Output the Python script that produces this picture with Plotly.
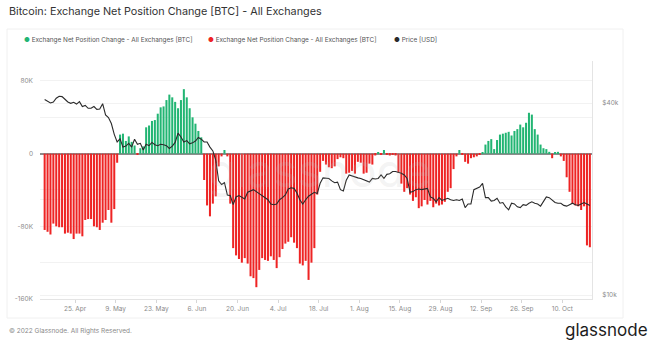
import plotly.graph_objects as go
import pandas as pd

# ---------------- data ----------------
dates = pd.date_range("2022-04-14", "2022-10-19", freq="D")

# Exchange net position change, thousands of BTC (one value per day)
net_k = [
    -84, -86, -89, -77, -80, -81, -81, -88, -87, -88,
    -94, -88, -88, -91, -73, -72, -72, -80, -81, -84,
    -76, -73, -62, -76, -61, -10, 21, 22, 14, 19,
    13, 9, -1.5, 6, 8, 29, 31, 36, 37, 44,
    51, 52, 59, 65, 62, 57, 50, 59, 71, 62,
    50, 40, 33, 25, 18, -29, -57, -69, -55, -47,
    -14, -3, 4, -3, -55, -104, -112, -116, -120, -115,
    -121, -135, -137, -147, -128, -115, -117, -118, -113, -117,
    -126, -114, -105, -99, -97, -92, -98, -104, -121, -123,
    -118, -139, -120, -104, -45, -20, -8, -12, -15, -16,
    -14, -6, -4, -5, -22, -21, -19, -22, -9, -10,
    -22, -21, -11, -12, -2, 1, -1, 4, -1.5, -2,
    -1, -2, -21, -33, -42, -38, -45, -52, -48, -60,
    -58, -51, -56, -52, -59, -55, -57, -56, -53, -42,
    -38, -17, -3, 4, -1, -9, -11, -5, -4, -3,
    -1, 1, 10, 14, 16, 5, 15, 21, 22, 23,
    24, 20, 25, 27, 32, 29, 34, 45, 43, 27,
    21, 10, 6, 5, 2, -5, 1.5, 2, -3, -8,
    -26, -42, -55, -57, -58, -62, -58, -101, -103,
]

# BTC price, thousands of USD
price_k = [
    41.0, 40.6, 40.0, 40.3, 41.4, 42.0, 41.9, 41.1, 40.3, 39.9,
    40.2, 39.7, 40.4, 39.0, 39.3, 38.5, 38.5, 39.0, 38.2, 38.3,
    39.8, 36.7, 36.0, 34.5, 31.9, 30.2, 30.9, 29.1, 29.3, 29.9,
    29.1, 30.8, 29.7, 29.9, 28.5, 29.7, 29.4, 30.1, 29.6, 29.4,
    29.7, 29.6, 29.4, 28.8, 29.3, 30.1, 32.2, 31.3, 30.2, 30.5,
    29.8, 30.0, 30.4, 31.2, 30.8, 30.2, 30.2, 29.1, 28.3, 26.5,
    22.8, 22.2, 22.5, 20.6, 20.5, 19.2, 20.3, 20.5, 20.2, 20.0,
    21.0, 21.2, 21.4, 21.1, 20.8, 20.4, 20.1, 19.9, 19.3, 19.2,
    19.3, 19.9, 20.2, 20.6, 21.5, 21.7, 21.6, 20.9, 19.9, 19.3,
    19.9, 20.4, 20.7, 21.0, 20.8, 22.4, 23.3, 23.2, 23.2, 22.8,
    22.5, 22.6, 21.4, 21.2, 22.9, 23.8, 23.6, 23.4, 23.3, 23.2,
    23.0, 22.7, 22.6, 23.2, 23.1, 23.2, 23.8, 23.2, 23.9, 24.0,
    24.4, 24.4, 24.3, 24.1, 23.8, 23.2, 21.0, 21.1, 21.4, 21.5,
    21.4, 21.5, 21.6, 20.3, 20.1, 19.6, 20.2, 19.8, 20.0, 20.1,
    19.9, 19.8, 19.9, 19.8, 20.0, 18.8, 19.3, 19.3, 21.4, 21.6,
    21.8, 22.4, 20.2, 20.2, 19.7, 19.8, 20.1, 19.4, 19.5, 18.9,
    18.5, 19.4, 19.3, 18.9, 18.8, 19.2, 19.1, 19.4, 19.6, 19.4,
    19.3, 19.0, 19.6, 20.3, 20.2, 19.9, 19.5, 19.4, 19.4, 19.1,
    19.0, 19.2, 19.4, 19.2, 19.1, 19.3, 19.5, 19.3, 19.1,
]

left_tickvals = [-160000, -120000, -80000, -40000, 0, 40000, 80000]
left_ticktext = ["-160K", "", "-80K", "", "0", "", "80K"]
right_tickvals = [10000, 20000, 40000]
right_ticktext = ["$10k", "", "$40k"]

TITLE = "Bitcoin: Exchange Net Position Change [BTC] - All Exchanges"
SERIES = "Exchange Net Position Change - All Exchanges [BTC]"
PRICE_NAME = "Price [USD]"

# ---------------- styling ----------------
GREEN = "#22b573"
RED = "#ee2424"
LINE = "#2a2a2a"
FONT = "Inter"
DAY = 86400000

net = [v * 1000 for v in net_k]
pos = [v if v > 0 else None for v in net]
neg = [v if v < 0 else None for v in net]
price = [p * 1000 for p in price_k]

W, H = 655, 347
L, R, T, B = 40, 592, 61, 299


def px(x):
    return (x - L) / (R - L)


def py(y):
    return (B - y) / (B - T)


fig = go.Figure()
fig.add_trace(go.Bar(x=dates, y=pos, marker=dict(color=GREEN, line=dict(width=0)),
                     xperiod=DAY, xperiodalignment="middle", name=SERIES, showlegend=False))
fig.add_trace(go.Bar(x=dates, y=neg, marker=dict(color=RED, line=dict(width=0)),
                     xperiod=DAY, xperiodalignment="middle", name=SERIES, showlegend=False))
fig.add_trace(go.Scatter(x=dates, y=price, yaxis="y2", mode="lines",
                         line=dict(color=LINE, width=1.1),
                         xperiod=DAY, xperiodalignment="middle", name=PRICE_NAME, showlegend=False))

tickfont = dict(family=FONT, size=6.5, color="#8a8a8a")

fig.update_layout(
    width=W, height=H,
    margin=dict(l=L, r=W - R, t=T, b=H - B),
    paper_bgcolor="white", plot_bgcolor="white",
    barmode="relative", bargap=0.3,
    showlegend=False,
    font=dict(family=FONT),
    xaxis=dict(
        range=["2022-04-12 21:30", "2022-10-20 05:45"],
        tick0="2022-04-25", dtick=14 * DAY, tickformat="%-d. %b",
        showgrid=False, zeroline=False,
        showline=True, linecolor="#e4e4e4", linewidth=1,
        ticks="outside", ticklen=3, tickcolor="#d6d6d6",
        tickfont=tickfont,
    ),
    yaxis=dict(
        range=[-160000, 102000],
        tickvals=left_tickvals, ticktext=left_ticktext,
        showgrid=True, gridcolor="#f2f2f2", gridwidth=1,
        zeroline=True, zerolinecolor="#8c8c8c", zerolinewidth=1.5,
        showline=False, ticks="", ticklabelstandoff=6,
        tickfont=tickfont,
    ),
    yaxis2=dict(
        overlaying="y", side="right", type="log",
        range=[3.9875, 4.7338],
        tickvals=right_tickvals, ticktext=right_ticktext,
        showgrid=True, gridcolor="#f2f2f2", gridwidth=1,
        zeroline=False, showline=True, linecolor="#e4e4e4", linewidth=1,
        ticks="", ticklabelstandoff=8,
        tickfont=tickfont,
    ),
)

annotations = []
# title
annotations.append(dict(text=TITLE, x=px(7), y=py(11), xref="paper", yref="paper",
                        xanchor="left", yanchor="middle", showarrow=False,
                        font=dict(family=FONT, size=10.8, color="#333333")))
# legend (text entries with coloured dots)
for xpos, col, label in [(22, GREEN, SERIES), (206, RED, SERIES), (392, LINE, PRICE_NAME)]:
    annotations.append(dict(
        text=f"<span style='color:{col}'>●</span> {label}",
        x=px(xpos), y=py(39.5), xref="paper", yref="paper",
        xanchor="left", yanchor="middle", showarrow=False,
        font=dict(family=FONT, size=6.4, color="#555555")))
# watermark
annotations.append(dict(text="glassnode", x=px(320), y=py(170), xref="paper", yref="paper",
                        xanchor="center", yanchor="middle", showarrow=False,
                        font=dict(family=FONT, size=46, color="rgba(190,190,190,0.18)")))
# footer
annotations.append(dict(text="© 2022 Glassnode. All Rights Reserved.", x=px(7), y=py(331),
                        xref="paper", yref="paper", xanchor="left", yanchor="middle",
                        showarrow=False, font=dict(family=FONT, size=6.5, color="#8a8a8a")))
annotations.append(dict(text="glassnode", x=px(650), y=py(330), xref="paper", yref="paper",
                        xanchor="right", yanchor="middle", showarrow=False,
                        font=dict(family=FONT, size=17, color="#1c1c1c")))
fig.update_layout(annotations=annotations)

# light panel frame around legend + plot
fig.add_shape(type="rect", xref="paper", yref="paper",
              x0=px(7), x1=px(623), y0=py(318), y1=py(29),
              line=dict(color="#f0f0f0", width=1), fillcolor="rgba(0,0,0,0)", layer="below")

fig.write_html("out.html")
